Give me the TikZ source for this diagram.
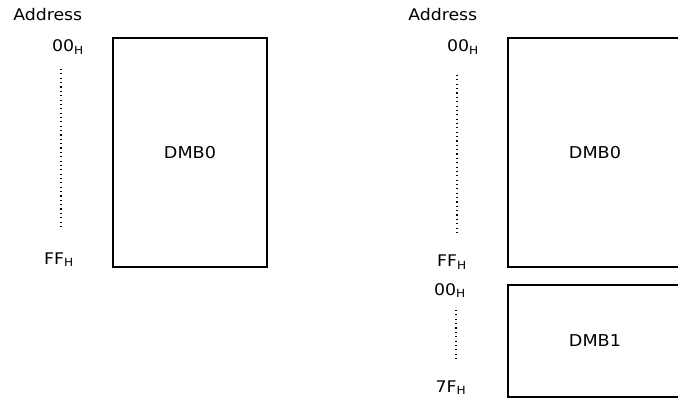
\documentclass[tikz,border=0pt]{standalone}
\usepackage{fontspec}
\setmainfont[FakeStretch=1.08]{DejaVu Sans}
\usetikzlibrary{positioning}

\begin{document}
\begin{tikzpicture}[
  x=0.025cm, y=-0.025cm,
  bank/.style={rectangle, draw=black, line width=0.8pt, inner sep=0pt,
               font=\fontsize{11.6}{13}\selectfont},
  addr/.style={anchor=base, inner sep=0pt, font=\fontsize{11.4}{13}\selectfont},
  head/.style={anchor=base west, inner sep=0pt, font=\fontsize{11.4}{13}\selectfont},
  dots/.style={line width=0.9pt, dash pattern=on 0.8pt off 2.3pt}
]
  \useasboundingbox (0,0) rectangle (678,400);
  \clip (0,0) rectangle (678,400);

  % Ein Bank
  \node[head] (hdL) at (13,21) {Address};
  \node[bank, minimum width=3.85cm, minimum height=5.725cm] (dmbL) at (190,152.5) {DMB0};
  \node[addr] (topL) at (68,52)  {00\textsubscript{H}};
  \node[addr] (botL) at (59,264) {FF\textsubscript{H}};
  \coordinate (dL1) at (61,69);
  \coordinate (dL2) at (61,230);
  \draw[dots] (dL1) -- (dL2);

  % Zwei Banks
  \node[head] (hdR) at (408,21) {Address};
  \node[bank, minimum width=4.35cm, minimum height=5.725cm] (dmbR) at (595,152.5) {DMB0};
  \node[bank, minimum width=4.35cm, minimum height=2.8cm] (dmbS) at (595,341) {DMB1};
  \node[addr] (topR) at (463,52)  {00\textsubscript{H}};
  \node[addr] (botR) at (452,267) {FF\textsubscript{H}};
  \node[addr] (topS) at (450,295) {00\textsubscript{H}};
  \node[addr] (botS) at (451,392) {7F\textsubscript{H}};
  \coordinate (dR1) at (457,75);
  \coordinate (dR2) at (457,235);
  \coordinate (dS1) at (456,310);
  \coordinate (dS2) at (456,362);
  \draw[dots] (dR1) -- (dR2);
  \draw[dots] (dS1) -- (dS2);
\end{tikzpicture}
\end{document}
